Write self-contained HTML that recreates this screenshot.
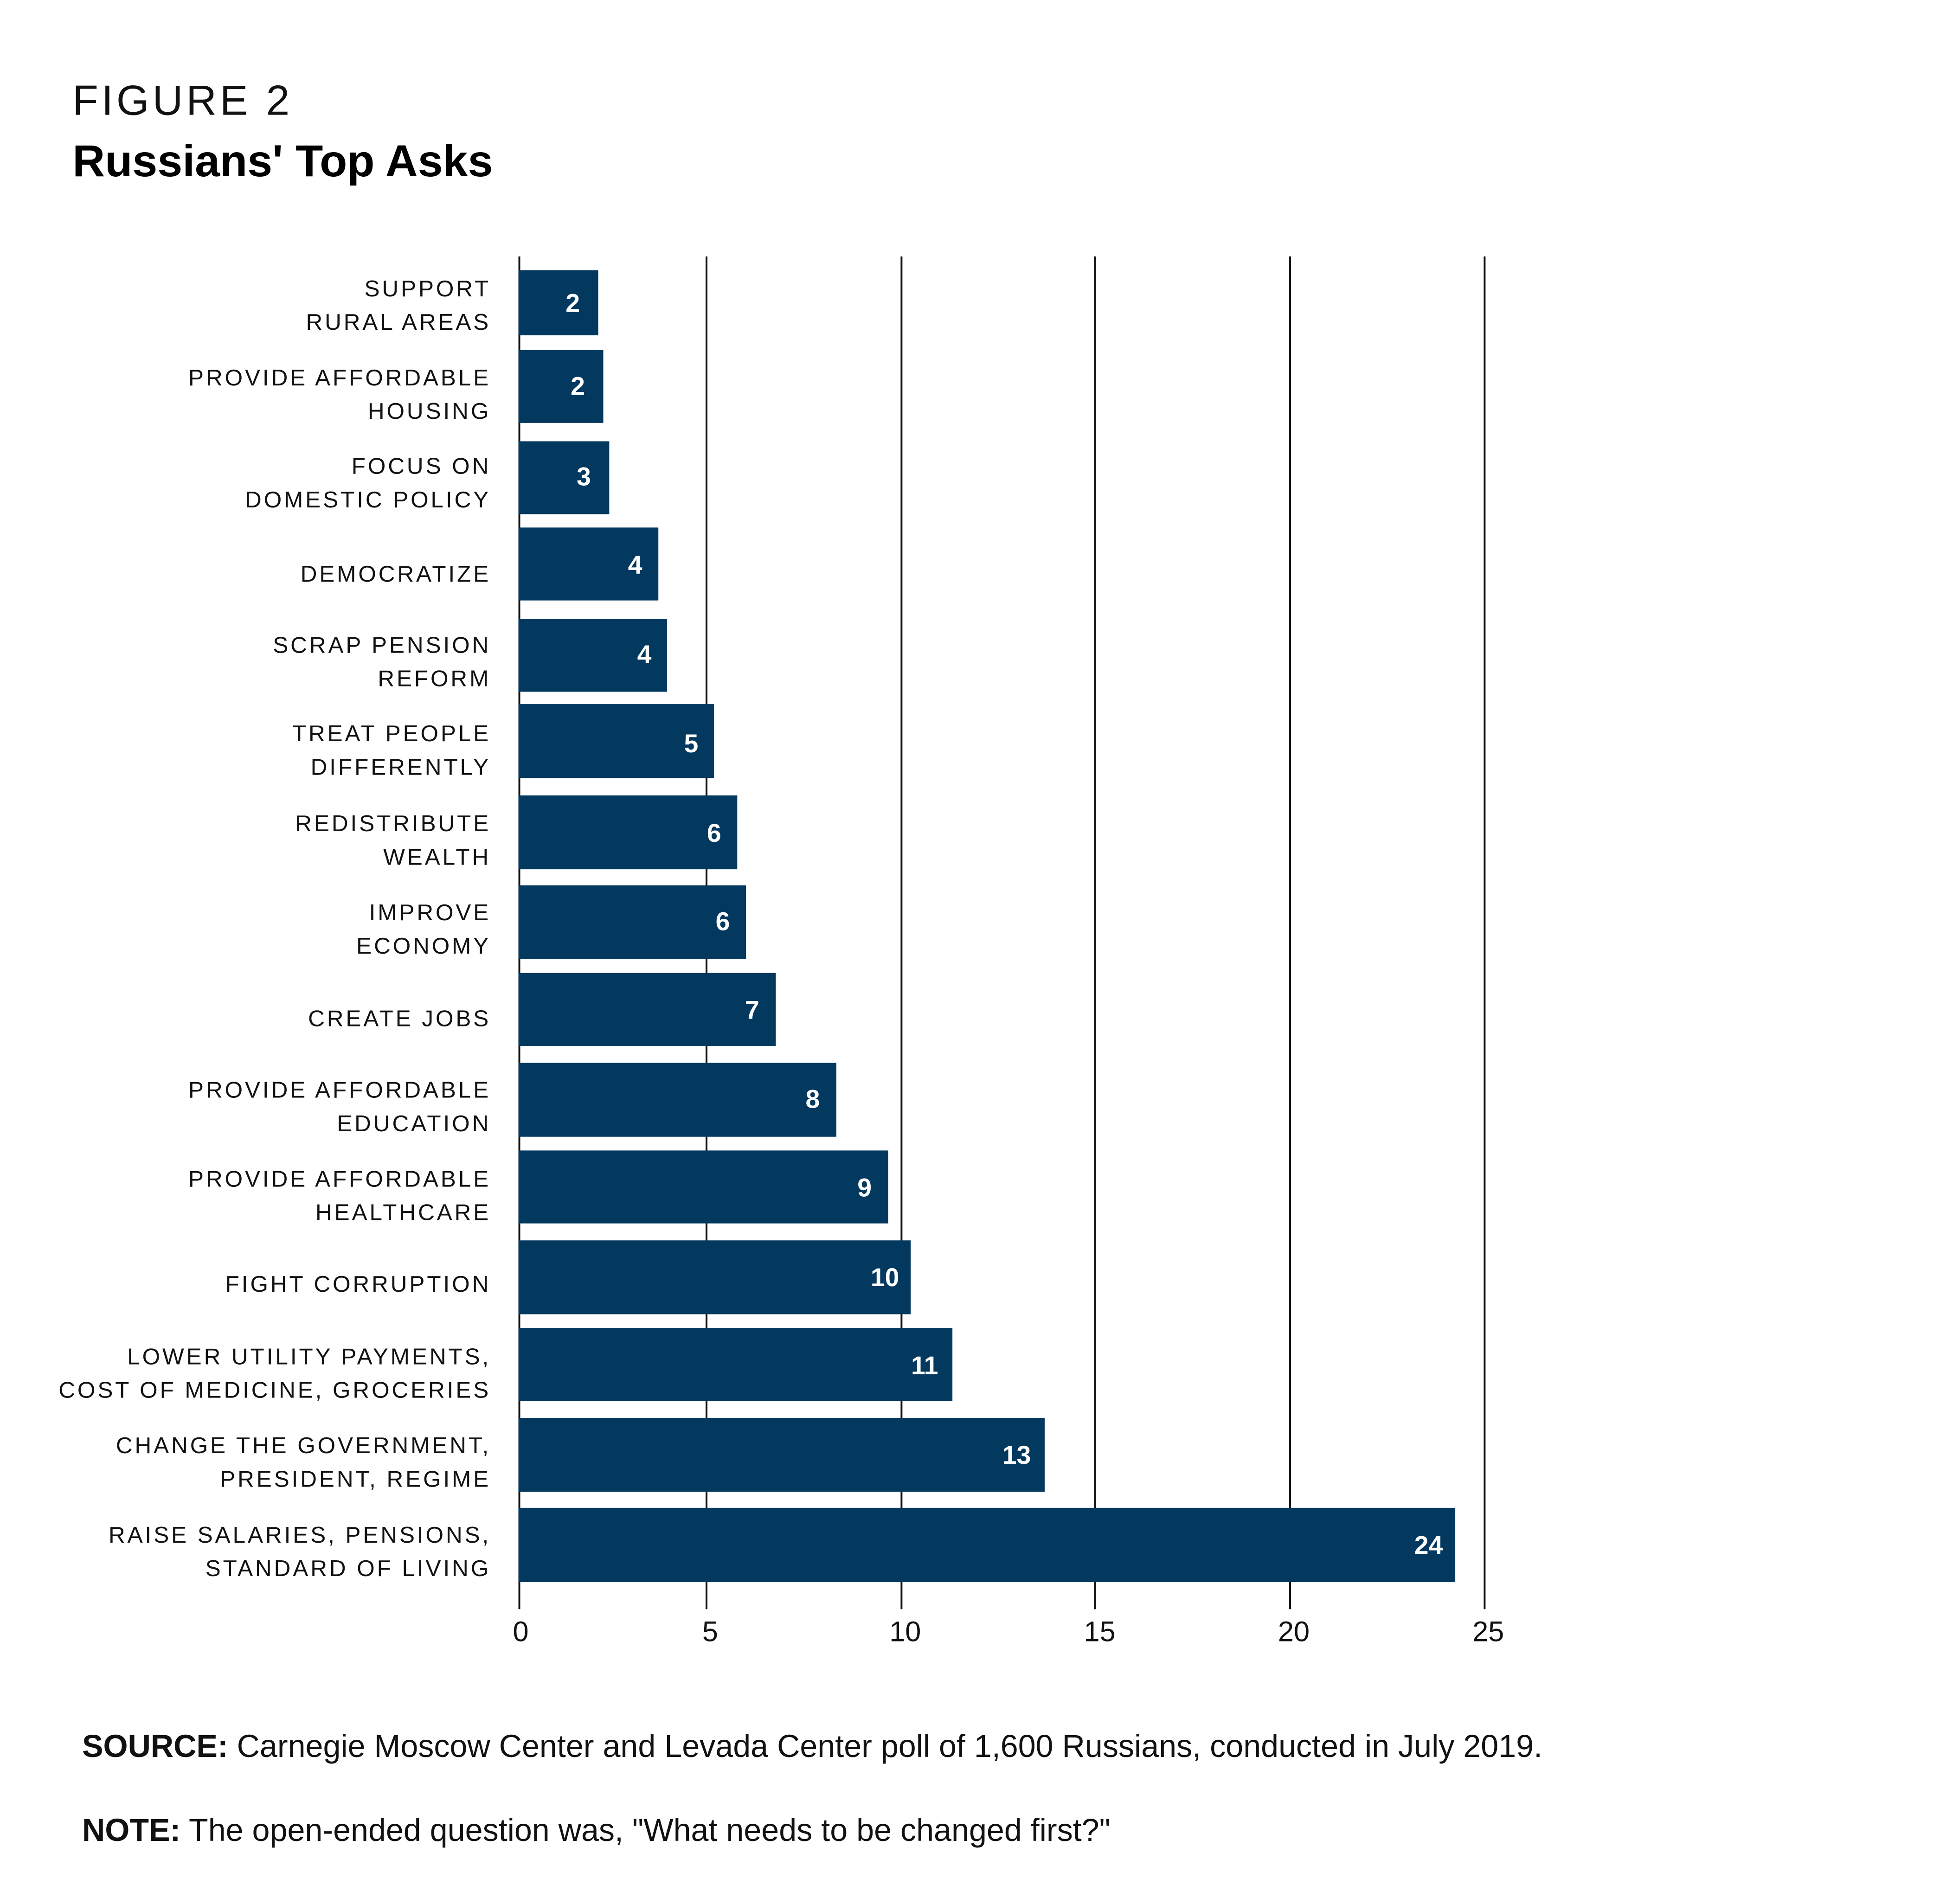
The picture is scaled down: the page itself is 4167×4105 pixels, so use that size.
<!DOCTYPE html>
<html><head><meta charset="utf-8"><style>
html,body{margin:0;padding:0;background:#fff}
svg{display:block}
text{font-family:"Liberation Sans",sans-serif}
.lab{font-size:50px;letter-spacing:5px;fill:#111;text-anchor:end}
.val{font-size:56px;font-weight:bold;fill:#fff;text-anchor:end}
.tick{font-size:62px;fill:#111;text-anchor:middle}
</style></head><body>
<svg width="4167" height="4105" viewBox="0 0 4167 4105" xmlns="http://www.w3.org/2000/svg">
<rect width="4167" height="4105" fill="#fff"/>
<g transform="scale(0.989)">
<text x="158" y="250" font-size="92" letter-spacing="7" fill="#111">FIGURE 2</text>
<text x="158" y="384" font-size="98" font-weight="bold" fill="#000">Russians' Top Asks</text>
<g stroke="#111" stroke-width="4">
<line x1="1132" y1="559" x2="1132" y2="3508"/>
<line x1="1540" y1="559" x2="1540" y2="3508"/>
<line x1="1965" y1="559" x2="1965" y2="3508"/>
<line x1="2387" y1="559" x2="2387" y2="3508"/>
<line x1="2812" y1="559" x2="2812" y2="3508"/>
<line x1="3236" y1="559" x2="3236" y2="3508"/>
</g>
<g fill="#03385f">
<rect x="1130" y="589" width="174" height="142"/>
<rect x="1130" y="763" width="185" height="159"/>
<rect x="1130" y="962" width="198" height="159"/>
<rect x="1130" y="1150" width="305" height="159"/>
<rect x="1130" y="1349" width="324" height="159"/>
<rect x="1130" y="1535" width="426" height="161"/>
<rect x="1130" y="1734" width="477" height="161"/>
<rect x="1130" y="1930" width="496" height="161"/>
<rect x="1130" y="2121" width="561" height="159"/>
<rect x="1130" y="2317" width="693" height="161"/>
<rect x="1130" y="2508" width="806" height="159"/>
<rect x="1130" y="2704" width="855" height="161"/>
<rect x="1130" y="2895" width="946" height="159"/>
<rect x="1130" y="3091" width="1147" height="161"/>
<rect x="1130" y="3287" width="2042" height="162"/>
</g>
<g class="val">
<text x="1264" y="680">2</text>
<text x="1275" y="861">2</text>
<text x="1288" y="1058">3</text>
<text x="1400" y="1251">4</text>
<text x="1420" y="1446">4</text>
<text x="1522" y="1640">5</text>
<text x="1572" y="1835">6</text>
<text x="1591" y="2028">6</text>
<text x="1655" y="2221">7</text>
<text x="1787" y="2415">8</text>
<text x="1900" y="2608">9</text>
<text x="1960" y="2804">10</text>
<text x="2045" y="2996">11</text>
<text x="2247" y="3191">13</text>
<text x="3145" y="3388">24</text>
</g>
<g class="lab">
<text x="1070" y="646">SUPPORT</text><text x="1070" y="719">RURAL AREAS</text>
<text x="1070" y="840">PROVIDE AFFORDABLE</text><text x="1070" y="913">HOUSING</text>
<text x="1070" y="1033">FOCUS ON</text><text x="1070" y="1106">DOMESTIC POLICY</text>
<text x="1070" y="1268">DEMOCRATIZE</text>
<text x="1070" y="1423">SCRAP PENSION</text><text x="1070" y="1496">REFORM</text>
<text x="1070" y="1616">TREAT PEOPLE</text><text x="1070" y="1689">DIFFERENTLY</text>
<text x="1070" y="1812">REDISTRIBUTE</text><text x="1070" y="1885">WEALTH</text>
<text x="1070" y="2006">IMPROVE</text><text x="1070" y="2079">ECONOMY</text>
<text x="1070" y="2237">CREATE JOBS</text>
<text x="1070" y="2393">PROVIDE AFFORDABLE</text><text x="1070" y="2466">EDUCATION</text>
<text x="1070" y="2587">PROVIDE AFFORDABLE</text><text x="1070" y="2660">HEALTHCARE</text>
<text x="1070" y="2816">FIGHT CORRUPTION</text>
<text x="1070" y="2974">LOWER UTILITY PAYMENTS,</text><text x="1070" y="3047">COST OF MEDICINE, GROCERIES</text>
<text x="1070" y="3168">CHANGE THE GOVERNMENT,</text><text x="1070" y="3241">PRESIDENT, REGIME</text>
<text x="1070" y="3363">RAISE SALARIES, PENSIONS,</text><text x="1070" y="3436">STANDARD OF LIVING</text>
</g>
<g class="tick">
<text x="1135" y="3578">0</text>
<text x="1548" y="3578">5</text>
<text x="1973" y="3578">10</text>
<text x="2397" y="3578">15</text>
<text x="2820" y="3578">20</text>
<text x="3244" y="3578">25</text>
</g>
<text x="179" y="3830" font-size="69" fill="#111"><tspan font-weight="bold">SOURCE:</tspan> Carnegie Moscow Center and Levada Center poll of 1,600 Russians, conducted in July 2019.</text>
<text x="179" y="4013" font-size="69" fill="#111"><tspan font-weight="bold">NOTE:</tspan> The open-ended question was, "What needs to be changed first?"</text>
</g>
</svg>
</body></html>
